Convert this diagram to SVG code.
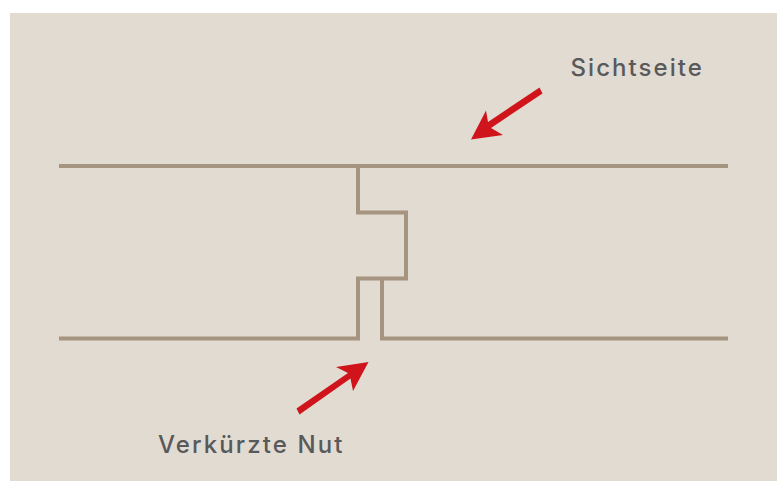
<svg xmlns="http://www.w3.org/2000/svg" width="781" height="481" viewBox="0 0 781 481">
<style>
.wall{fill:none;stroke:#a59480;stroke-width:4}
.arrow{fill:#d0141c}
.label{font-family:"Inter","Liberation Sans",sans-serif;font-size:24px;font-weight:500;fill:#58595b}
</style>
<rect x="10" y="13" width="767" height="468" fill="#e2dbd1"/>
<g id="connectors">
<path class="wall" d="M59 166H728"/>
<path class="wall" d="M358 166V212.500H406V278.500H358V338.500H59"/>
<path class="wall" d="M382 278.500V338.500H728"/>
</g>
<g id="arrow-sichtseite"><polygon class="arrow" points="539.500,87.500 542.500,93.500 491,128 503,135 471,139.500 486,110.500 488,122"/></g>
<g id="arrow-nut"><polygon class="arrow" points="296.500,408.500 299.500,414.500 350.500,378.500 353,391 368.500,362 336,367 348,373"/></g>
<g id="label-sichtseite"><text class="label" x="570.500" y="76" letter-spacing="2.05">Sichtseite</text></g>
<g id="label-nut"><text class="label" x="158" y="453" letter-spacing="2.1">Verkürzte Nut</text></g>
</svg>
